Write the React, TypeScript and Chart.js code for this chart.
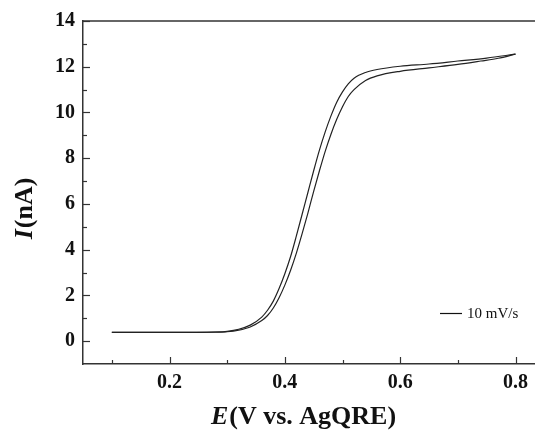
import React, { useEffect, useRef } from 'react';
import { Chart, registerables } from 'chart.js';

Chart.register(...registerables);

// Reverse scan (upper/left branch)
const potentialA = [0.10, 0.20, 0.28, 0.30, 0.32, 0.34, 0.36, 0.37, 0.38, 0.39, 0.40, 0.41, 0.42, 0.43, 0.44, 0.45, 0.46, 0.47, 0.48, 0.49, 0.50, 0.51, 0.52, 0.54, 0.56, 0.60, 0.65, 0.70, 0.75, 0.80];
const currentA = [0.38, 0.38, 0.40, 0.43, 0.52, 0.70, 1.05, 1.35, 1.75, 2.30, 2.95, 3.70, 4.60, 5.55, 6.50, 7.45, 8.35, 9.15, 9.85, 10.45, 10.90, 11.25, 11.50, 11.75, 11.88, 12.02, 12.12, 12.25, 12.38, 12.55];

// Forward scan (lower/right branch)
const potentialB = [0.10, 0.20, 0.28, 0.30, 0.32, 0.34, 0.36, 0.37, 0.38, 0.39, 0.40, 0.41, 0.42, 0.43, 0.44, 0.45, 0.46, 0.47, 0.48, 0.49, 0.50, 0.51, 0.52, 0.54, 0.56, 0.60, 0.65, 0.70, 0.74, 0.77, 0.80];
const currentB = [0.38, 0.38, 0.39, 0.41, 0.48, 0.62, 0.90, 1.12, 1.45, 1.90, 2.45, 3.10, 3.85, 4.70, 5.60, 6.55, 7.45, 8.30, 9.05, 9.70, 10.25, 10.70, 11.00, 11.40, 11.60, 11.80, 11.95, 12.10, 12.25, 12.37, 12.55];

const xMajorTicks = [0.2, 0.4, 0.6, 0.8];
const xMinorTicks = [0.1, 0.3, 0.5, 0.7];
const yMajorTicks = [0, 2, 4, 6, 8, 10, 12, 14];
const yMinorTicks = [1, 3, 5, 7, 9, 11, 13];

const xTitleItalic = 'E';
const xTitleRest = '(V vs. AgQRE)';
const yTitleItalic = 'I';
const yTitleRest = '(nA)';
const legendLabel = '10 mV/s';

const SERIF = '"Liberation Serif", "Times New Roman", serif';
const AXIS_COLOR = '#333';

const decorPlugin = {
  id: 'decor',
  afterDraw(chart: any) {
    const { ctx, chartArea } = chart;
    const xs = chart.scales.x;
    const ys = chart.scales.y;
    ctx.save();
    // top border
    ctx.strokeStyle = AXIS_COLOR;
    ctx.lineWidth = 1.5;
    ctx.beginPath();
    ctx.moveTo(chartArea.left, chartArea.top);
    ctx.lineTo(chartArea.right + 2, chartArea.top);
    ctx.stroke();

    // inward ticks
    ctx.lineWidth = 1.2;
    const tick = (x1: number, y1: number, x2: number, y2: number) => {
      ctx.beginPath();
      ctx.moveTo(x1, y1);
      ctx.lineTo(x2, y2);
      ctx.stroke();
    };
    xMajorTicks.forEach((v) => {
      const p = Math.round(xs.getPixelForValue(v)) + 0.5;
      tick(p, chartArea.bottom, p, chartArea.bottom - 7);
    });
    xMinorTicks.forEach((v) => {
      const p = Math.round(xs.getPixelForValue(v)) + 0.5;
      tick(p, chartArea.bottom, p, chartArea.bottom - 4);
    });
    yMajorTicks.forEach((v) => {
      const p = Math.round(ys.getPixelForValue(v)) + 0.5;
      tick(chartArea.left, p, chartArea.left + 7, p);
    });
    yMinorTicks.forEach((v) => {
      const p = Math.round(ys.getPixelForValue(v)) + 0.5;
      tick(chartArea.left, p, chartArea.left + 4, p);
    });

    // x title
    ctx.fillStyle = '#111';
    ctx.textBaseline = 'middle';
    ctx.textAlign = 'left';
    const fItal = `italic bold 26px ${SERIF}`;
    const fBold = `bold 26px ${SERIF}`;
    ctx.font = fItal;
    const wI = ctx.measureText(xTitleItalic).width;
    ctx.font = fBold;
    const wR = ctx.measureText(xTitleRest).width;
    const cx = 303;
    const startX = cx - (wI + wR) / 2;
    const ty = 417;
    ctx.font = fItal;
    ctx.fillText(xTitleItalic, startX, ty);
    ctx.font = fBold;
    ctx.fillText(xTitleRest, startX + wI + 1, ty);

    // y title (rotated)
    ctx.save();
    ctx.translate(25, 209);
    ctx.rotate(-Math.PI / 2);
    ctx.font = fItal;
    const yI = ctx.measureText(yTitleItalic).width;
    ctx.font = fBold;
    const yR = ctx.measureText(yTitleRest).width;
    const sy = -(yI + yR) / 2;
    ctx.font = fItal;
    ctx.fillText(yTitleItalic, sy, 0);
    ctx.font = fBold;
    ctx.fillText(yTitleRest, sy + yI + 1, 0);
    ctx.restore();

    // legend
    ctx.strokeStyle = '#111';
    ctx.lineWidth = 1.2;
    tick(440, 313.5, 462, 313.5);
    ctx.font = `15px ${SERIF}`;
    ctx.fillStyle = '#111';
    ctx.textAlign = 'left';
    ctx.fillText(legendLabel, 467, 314);
    ctx.restore();
  },
};

export default function App() {
  const ref = useRef<HTMLCanvasElement | null>(null);
  useEffect(() => {
    if (!ref.current) return;
    const lineStyle = {
      borderColor: '#222',
      borderWidth: 1.2,
      pointRadius: 0,
      fill: false,
      cubicInterpolationMode: 'monotone' as const,
    };
    const chart = new Chart(ref.current, {
      type: 'line',
      data: {
        datasets: [
          {
            label: 'reverse',
            data: potentialA.map((x, i) => ({ x, y: currentA[i] })),
            ...lineStyle,
          },
          {
            label: 'forward',
            data: potentialB.map((x, i) => ({ x, y: currentB[i] })),
            ...lineStyle,
          },
        ],
      },
      options: {
        animation: false,
        responsive: false,
        maintainAspectRatio: false,
        layout: { padding: { top: 21, left: 0, right: 0, bottom: 0 } },
        plugins: {
          legend: { display: false },
          tooltip: { enabled: false },
        },
        scales: {
          x: {
            type: 'linear',
            min: 0.05,
            max: 0.8334,
            afterBuildTicks: (s: any) => {
              s.ticks = xMajorTicks.map((v) => ({ value: v }));
            },
            afterFit: (s: any) => {
              s.height = 66;
            },
            grid: { display: false, drawTicks: false },
            border: { display: true, color: AXIS_COLOR, width: 1.5 },
            ticks: {
              padding: 7,
              color: '#111',
              maxRotation: 0,
              font: { family: SERIF, size: 20, weight: 'bold' },
              callback: (v: any) => Number(v).toFixed(1),
            },
          },
          y: {
            type: 'linear',
            min: -1,
            max: 14,
            afterBuildTicks: (s: any) => {
              s.ticks = yMajorTicks.map((v) => ({ value: v }));
            },
            afterFit: (s: any) => {
              s.width = 83;
            },
            grid: { display: false, drawTicks: false },
            border: { display: true, color: AXIS_COLOR, width: 1.5 },
            ticks: {
              padding: 8,
              color: '#111',
              font: { family: SERIF, size: 20, weight: 'bold' },
              callback: (v: any) => String(v),
            },
          },
        },
      },
      plugins: [decorPlugin],
    });
    return () => chart.destroy();
  }, []);
  return (
    <div style={{ position: 'fixed', left: 0, top: 0, width: 535, height: 430, background: '#fff' }}>
      <canvas ref={ref} width={535} height={430} style={{ display: 'block' }} />
    </div>
  );
}
